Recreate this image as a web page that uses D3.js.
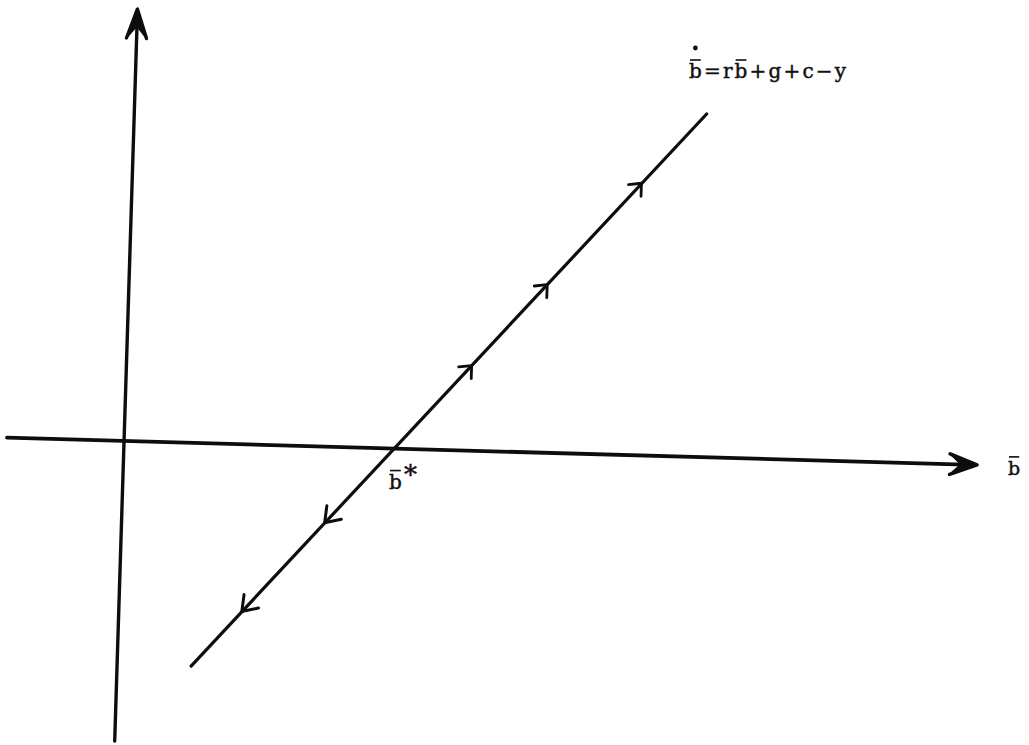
<!DOCTYPE html>
<html>
<head>
<meta charset="utf-8">
<script src="https://cdn.jsdelivr.net/npm/d3@7"></script>
<style>
  html, body { margin: 0; padding: 0; background: #fff; }
  svg { display: block; }
  text { font-family: "DejaVu Serif", "Liberation Serif", serif; fill: #111; stroke: #111; stroke-width: 0.45; }
</style>
</head>
<body>
<svg id="chart" width="1029" height="745"></svg>
<script>
// Phase line for debt dynamics: b-dot = r*b + g + c - y
const axisB = [-1.17, 8.53];        // extent of the b-bar axis
const axisBdot = [-3.0, 4.32];      // extent of the b-dot axis
const lineB = [0.74, 5.72];         // b-bar at the ends of the phase line
const lineBdot = [-2.23, 3.43];     // b-dot at the ends of the phase line
const bStar = 2.70;                 // steady state where b-dot = 0
const flowB = [1.23, 2.03, 3.45, 4.18, 5.09];     // arrow positions on the line
const flowBdot = [-1.67, -0.76, 0.85, 1.68, 2.72];
const flowDir = [-1, -1, 1, 1, 1];                // -1 toward lower b, +1 toward higher b
const equationLabel = "b=rb+g+c\u2212y";
const axisLabel = "b";
const starLabel = "b";

const svg = d3.select("#chart");

// data scales (in the plane of the axes)
const x = d3.scaleLinear().domain([0, 1]).range([0, 100]);
const y = d3.scaleLinear().domain([0, 1]).range([0, -100]);

// the hand-drawn axes are slightly tilted: map the plane onto the page
const origin = [124, 441];
const skewX = -0.031, skewY = 0.028;
function page(b, bd) {
  const u = x(b), v = y(bd);
  return [origin[0] + u + skewX * v, origin[1] + skewY * u + v];
}

const ink = "#0d0d0d";
const g = svg.append("g");

// horizontal axis (b-bar)
const hA = page(axisB[0], 0), hB = page(axisB[1], 0);
g.append("line").attr("x1", hA[0]).attr("y1", hA[1]).attr("x2", hB[0] - 4).attr("y2", hB[1] - 0.1)
  .attr("stroke", ink).attr("stroke-width", 3.8).attr("stroke-linecap", "round");

// vertical axis (b-dot)
const vA = page(0, axisBdot[0]), vB = page(0, axisBdot[1]);
g.append("line").attr("x1", vA[0]).attr("y1", vA[1]).attr("x2", vB[0]).attr("y2", vB[1] + 4)
  .attr("stroke", ink).attr("stroke-width", 3.4).attr("stroke-linecap", "round");

// chevron arrowhead at a tip, pointing along angle ang
function chevron(tip, ang, len, half, width, fill) {
  const back = ang + Math.PI;
  const w1 = [tip[0] + len * Math.cos(back - half), tip[1] + len * Math.sin(back - half)];
  const w2 = [tip[0] + len * Math.cos(back + half), tip[1] + len * Math.sin(back + half)];
  if (fill) {
    const inner = [tip[0] + len * 0.55 * Math.cos(back), tip[1] + len * 0.55 * Math.sin(back)];
    g.append("path").attr("d", d3.line()([w1, tip, w2, inner]) + "Z")
      .attr("fill", ink).attr("stroke", ink).attr("stroke-width", 1.5).attr("stroke-linejoin", "round");
  }
  g.append("path").attr("d", d3.line()([w1, tip, w2]))
    .attr("fill", "none").attr("stroke", ink).attr("stroke-width", width)
    .attr("stroke-linecap", "round").attr("stroke-linejoin", "round");
}

// axis arrowheads
const hAng = Math.atan2(hB[1] - hA[1], hB[0] - hA[0]);
chevron(hB, hAng, 29, 0.36, 3.6, true);
const vAng = Math.atan2(vB[1] - vA[1], vB[0] - vA[0]);
chevron(vB, vAng, 31, 0.33, 3.4, true);

// phase line
const pts = lineB.map((b, i) => page(b, lineBdot[i]));
g.append("path").attr("d", d3.line()(pts))
  .attr("fill", "none").attr("stroke", ink).attr("stroke-width", 3.2).attr("stroke-linecap", "round");

// flow arrows along the phase line
const lineAng = Math.atan2(pts[1][1] - pts[0][1], pts[1][0] - pts[0][0]);
flowB.forEach((b, i) => {
  const tip = page(b, flowBdot[i]);
  if (flowDir[i] > 0) chevron(tip, lineAng, 13, 0.72, 2.8, false);
  else chevron(tip, lineAng + Math.PI, 17, 0.62, 3, false);
});

// overbar helper for a glyph in a text element
function overbar(textSel, idx, dy) {
  const node = textSel.node();
  const s = node.getStartPositionOfChar(idx), e = node.getEndPositionOfChar(idx);
  g.append("line").attr("x1", s.x + 1).attr("x2", e.x - 1).attr("y1", s.y + dy).attr("y2", s.y + dy)
    .attr("stroke", ink).attr("stroke-width", 1.6);
  return [s, e];
}

// equation of the phase line
const eq = g.append("text").attr("x", 689).attr("y", 78)
  .attr("font-size", 20).attr("textLength", 157).attr("lengthAdjust", "spacing")
  .text(equationLabel);
const [s0, e0] = overbar(eq, 0, -18);
g.append("circle").attr("cx", (s0.x + e0.x) / 2).attr("cy", s0.y - 30).attr("r", 2.4).attr("fill", ink);
overbar(eq, 3, -18);

// steady-state label
const star = page(bStar, 0);
const st = g.append("text").attr("x", star[0] - 5).attr("y", star[1] + 40).attr("font-size", 20).text(starLabel);
overbar(st, 0, -18);
g.append("text").attr("x", star[0] + 10).attr("y", star[1] + 35).attr("font-size", 26)
  .attr("stroke-width", 0.8).text("*");

// axis label
const al = g.append("text").attr("x", hB[0] + 31).attr("y", hB[1] + 10).attr("font-size", 19).text(axisLabel);
overbar(al, 0, -18);
</script>
</body>
</html>
